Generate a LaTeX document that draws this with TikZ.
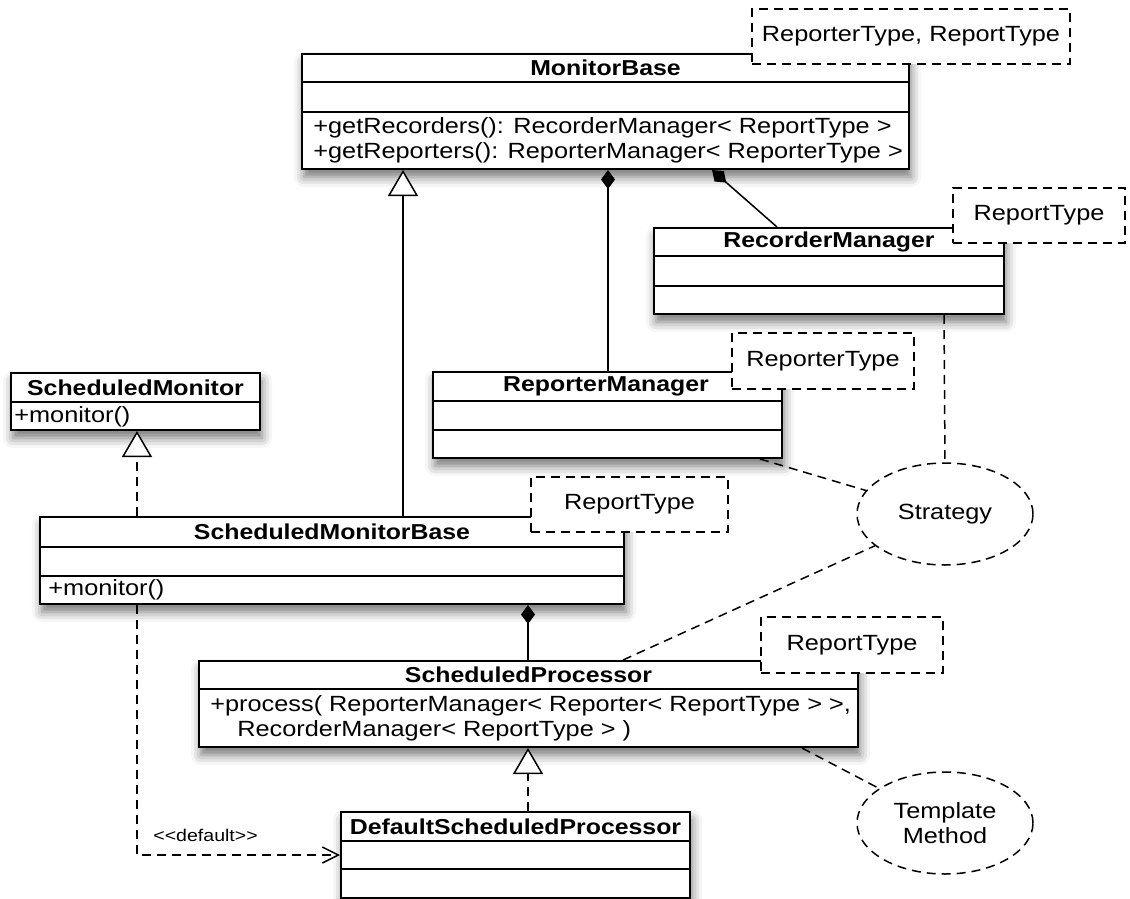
\documentclass[tikz,border=0pt]{standalone}
\usepackage{fontspec}
\setmainfont[FakeStretch=1.15]{Liberation Sans}
\usetikzlibrary{arrows.meta,shapes.geometric,shadows.blur}
\begin{document}
\begin{tikzpicture}[x=0.5pt,y=-0.5pt,
  font=\fontsize{11}{12.5}\selectfont,
  cls/.style={draw, line width=1pt, fill=white, inner sep=0pt,
    blur shadow={shadow xshift=1pt, shadow yshift=-4pt, shadow blur radius=5pt, shadow opacity=55}},
  sepline/.style={line width=1pt},
  ttl/.style={font=\fontsize{10.8}{12.5}\selectfont\bfseries, inner sep=0pt},
  txt/.style={inner sep=0pt, anchor=west},
  tmpl/.style={draw, dash pattern=on 4.5pt off 3pt, fill=white, line width=0.75pt, inner sep=0pt},
  conn/.style={line width=0.75pt},
  dconn/.style={line width=0.75pt, dash pattern=on 4.5pt off 3pt},
  comp/.style={conn, -{Diamond[length=9.5pt,width=7pt,fill=black]}},
  gen/.style={-{Triangle[length=13pt,width=15pt,fill=white]}},
  coll/.style={draw, ellipse, dash pattern=on 4.5pt off 3pt, line width=0.75pt, inner sep=0pt,
    minimum width=88pt, minimum height=51pt, align=center}
]
\useasboundingbox (0,0) rectangle (1130,899);

% ---------- class boxes ----------
\node[cls, minimum width=303.5pt, minimum height=57.5pt] (mb) at (605.5,111.5) {};
\draw[sepline] (mb.west |- 0,82) -- (mb.east |- 0,82);
\draw[sepline] (mb.west |- 0,112) -- (mb.east |- 0,112);
\node[ttl] (mbt) at (605.5,68) {MonitorBase};
\node[txt, align=left] (mbo) at (313,140.5) {+getRecorders(): RecorderManager< ReportType >\\+getReporters(): ReporterManager< ReporterType >};

\node[cls, minimum width=175pt, minimum height=43pt] (rcm) at (829,271) {};
\draw[sepline] (rcm.west |- 0,256) -- (rcm.east |- 0,256);
\draw[sepline] (rcm.west |- 0,286) -- (rcm.east |- 0,286);
\node[ttl] (rcmt) at (829,242) {RecorderManager};

\node[cls, minimum width=174.5pt, minimum height=43pt] (rpm) at (607.5,415) {};
\draw[sepline] (rpm.west |- 0,401) -- (rpm.east |- 0,401);
\draw[sepline] (rpm.west |- 0,430) -- (rpm.east |- 0,430);
\node[ttl] (rpmt) at (606,386.5) {ReporterManager};

\node[cls, minimum width=124.5pt, minimum height=28.5pt] (sm) at (135.5,401.5) {};
\draw[sepline] (sm.west |- 0,402) -- (sm.east |- 0,402);
\node[ttl] (smt) at (135.5,387.5) {ScheduledMonitor};
\node[txt] (smo) at (14,416.5) {+monitor()};

\node[cls, minimum width=292pt, minimum height=43.5pt] (smb) at (332,560.5) {};
\draw[sepline] (smb.west |- 0,547) -- (smb.east |- 0,547);
\draw[sepline] (smb.west |- 0,576) -- (smb.east |- 0,576);
\node[ttl] (smbt) at (332,532) {ScheduledMonitorBase};
\node[txt] (smbo) at (48,590) {+monitor()};

\node[cls, minimum width=329.5pt, minimum height=43pt] (sp) at (528.5,704) {};
\draw[sepline] (sp.west |- 0,689) -- (sp.east |- 0,689);
\node[ttl] (spt) at (528.5,675) {ScheduledProcessor};
\node[txt] (spo1) at (210,705.5) {+process( ReporterManager< Reporter< ReportType > >,};
\node[txt] (spo2) at (237,730.5) {RecorderManager< ReportType > )};

\node[cls, minimum width=174.5pt, minimum height=43pt] (dsp) at (515.5,855) {};
\draw[sepline] (dsp.west |- 0,841) -- (dsp.east |- 0,841);
\draw[sepline] (dsp.west |- 0,869) -- (dsp.east |- 0,869);
\node[ttl] (dspt) at (515.5,826.5) {DefaultScheduledProcessor};

% ---------- template parameters ----------
\node[tmpl, minimum width=159pt, minimum height=27.5pt] (t1) at (911,36.5) {ReporterType, ReportType};
\node[tmpl, minimum width=86pt, minimum height=27.5pt] (t2) at (1039,215.5) {ReportType};
\node[tmpl, minimum width=91pt, minimum height=28pt] (t3) at (823,361) {ReporterType};
\node[tmpl, minimum width=98.5pt, minimum height=27.5pt] (t4) at (629.5,504.5) {ReportType};
\node[tmpl, minimum width=91pt, minimum height=28pt] (t5) at (852,645) {ReportType};

% ---------- collaborations ----------
\node[coll] (strat) at (945,514) {Strategy};
\node[coll] (tm) at (945,823) {Template\\Method};

% ---------- connectors ----------
\draw[conn, gen] (smb.north -| 403,0) -- (mb.south -| 403,0);
\draw[comp] (rpm.north -| 608,0) -- (mb.south -| 608,0);
\draw[comp] (rcm.north -| 777,0) -- (mb.south -| 712,0);
\draw[dconn, gen] (smb.north -| 137,0) -- (sm.south -| 137,0);
\draw[comp] (sp.north -| 528,0) -- (smb.south -| 528,0);
\draw[dconn, gen] (dsp.north -| 528,0) -- (sp.south -| 528,0);
\draw[dconn, -{Straight Barb[length=8pt,width=8pt]}] (smb.south -| 137,0) |- (dsp.west);
\node[font=\fontsize{8.5}{10}\selectfont, inner sep=0pt, anchor=west] (deflbl) at (153,835) {<\kern0pt<default>\kern0pt>};

\draw[dconn] (rcm.south -| 944,0) -- (strat.north);
\draw[dconn] (rpm.south -| 760,0) -- (strat);
\draw[dconn] (sp.north -| 623,0) -- (strat);
\draw[dconn] (sp.south -| 802,0) -- (tm);
\end{tikzpicture}
\end{document}
